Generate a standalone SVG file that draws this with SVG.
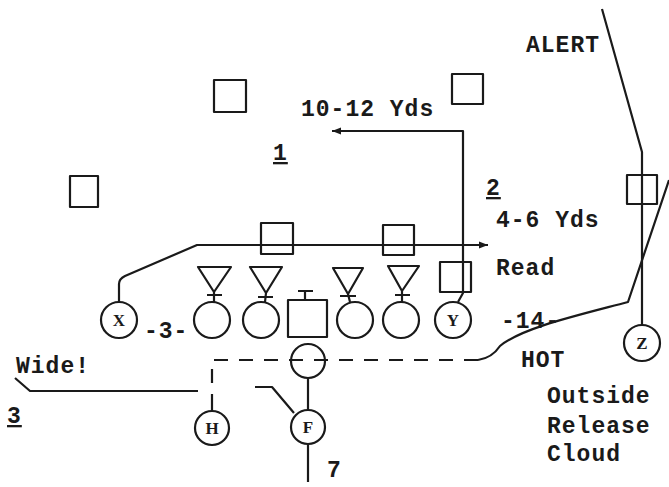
<svg xmlns="http://www.w3.org/2000/svg" width="669" height="487" viewBox="0 0 669 487">
<style>
.s{fill:none;stroke:#1a1a1a;stroke-width:2.2;stroke-linejoin:round;stroke-linecap:butt}
.d{fill:none;stroke:#1a1a1a;stroke-width:2.2;stroke-dasharray:14 11}
.t{font-family:"Liberation Mono","DejaVu Sans Mono",monospace;font-weight:bold;font-size:23px;letter-spacing:1px;fill:#1a1a1a}
.u{text-decoration:underline}
.p{font-family:"Liberation Serif","DejaVu Serif",serif;font-weight:bold;font-size:17px;fill:#1a1a1a;text-anchor:middle}
</style>
<defs>
<marker id="ah" markerWidth="10" markerHeight="8" refX="9" refY="4" orient="auto" markerUnits="userSpaceOnUse">
<path d="M0,0.5 L9,4 L0,7.5 Z" fill="#1a1a1a"/>
</marker>
</defs>
<rect width="669" height="487" fill="#ffffff"/>

<g id="connectors">
<path id="route-x" class="s" d="M119,302 L119,284 Q119,279 125,276 L197,245 L488,245" marker-end="url(#ah)"/>
<path id="route-y" class="s" d="M458,302 L463,293 L463,131 L332,131" marker-end="url(#ah)"/>
<path id="route-z" class="s" d="M602,9 L642,152 L642,325"/>
<path id="route-hot" class="s" d="M669,180 L628,302 C575,316 522,328 500,346 Q492,358 478,360"/>
<path id="route-back" class="d" d="M478,360 L212,360 L212,396"/>
<path id="route-h" class="s" d="M212,396 L212,411"/>
<path id="route-wide" class="s" d="M15,378 L30,391 L198,391"/>
<path id="route-f-up" class="s" d="M308,378 L308,410"/>
<path id="route-f-block" class="s" d="M255,387 L272,387 L294,413"/>
<path id="route-f-down" class="s" d="M308,444 L308,482"/>
</g>

<g id="def-1"><rect class="s" x="214" y="80" width="32" height="32"/></g>
<g id="def-2"><rect class="s" x="70" y="176" width="28" height="31"/></g>
<g id="def-3"><rect class="s" x="452" y="74" width="31" height="30"/></g>
<g id="lb-1"><rect class="s" x="261" y="223" width="32" height="31"/></g>
<g id="lb-2"><rect class="s" x="383" y="225" width="31" height="30"/></g>
<g id="lb-3"><rect class="s" x="440" y="262" width="31" height="30"/></g>
<g id="def-z"><rect class="s" x="627" y="175" width="30" height="29"/></g>

<g id="dl-1"><path class="s" d="M198,267 L231,267 L214,292 Z M207,295 L222,295 M214,292 L214,302"/></g>
<g id="dl-2"><path class="s" d="M250,267 L282,267 L266,293 Z M258,297 L273,297 M266,293 L265,302"/></g>
<g id="dl-3"><path class="s" d="M333,268 L363,268 L348,294 Z M340,296 L356,296 M348,294 L350,302"/></g>
<g id="dl-4"><path class="s" d="M388,266 L419,266 L402,291 Z M395,295 L410,295 M402,291 L402,302"/></g>

<g id="ol-1"><circle class="s" cx="212" cy="320" r="18"/></g>
<g id="ol-2"><circle class="s" cx="261" cy="320" r="18"/></g>
<g id="center"><rect class="s" x="288" y="300" width="39" height="37"/><path class="s" d="M305,292 L305,300 M298,291 L313,291"/></g>
<g id="ol-3"><circle class="s" cx="355" cy="320" r="18"/></g>
<g id="ol-4"><circle class="s" cx="401" cy="320" r="18"/></g>
<g id="x"><circle class="s" cx="119" cy="320" r="18"/><text class="p" x="119" y="326">X</text></g>
<g id="y"><circle class="s" cx="453" cy="320" r="18"/><text class="p" x="453" y="326">Y</text></g>
<g id="z"><circle class="s" cx="642" cy="343" r="18"/><text class="p" x="642" y="349">Z</text></g>
<g id="qb"><circle class="s" cx="308" cy="361" r="17"/></g>
<g id="h"><circle class="s" cx="212" cy="428" r="17"/><text class="p" x="212" y="434">H</text></g>
<g id="f"><circle class="s" cx="308" cy="427" r="17"/><text class="p" x="308" y="433">F</text></g>

<g id="labels">
<text class="t" x="301" y="116">10-12 Yds</text>
<text class="t" x="526" y="52">ALERT</text>
<text class="t u" x="273" y="160">1</text>
<text class="t u" x="486" y="195">2</text>
<text class="t" x="496" y="227">4-6 Yds</text>
<text class="t" x="496" y="275">Read</text>
<text class="t" x="501" y="328">-14-</text>
<text class="t" x="521" y="367">HOT</text>
<text class="t" x="547" y="403">Outside</text>
<text class="t" x="547" y="433">Release</text>
<text class="t" x="547" y="461">Cloud</text>
<text class="t" x="144" y="338">-3-</text>
<text class="t" x="16" y="373">Wide!</text>
<text class="t u" x="7" y="423">3</text>
<text class="t" x="327" y="477">7</text>
</g>
</svg>
